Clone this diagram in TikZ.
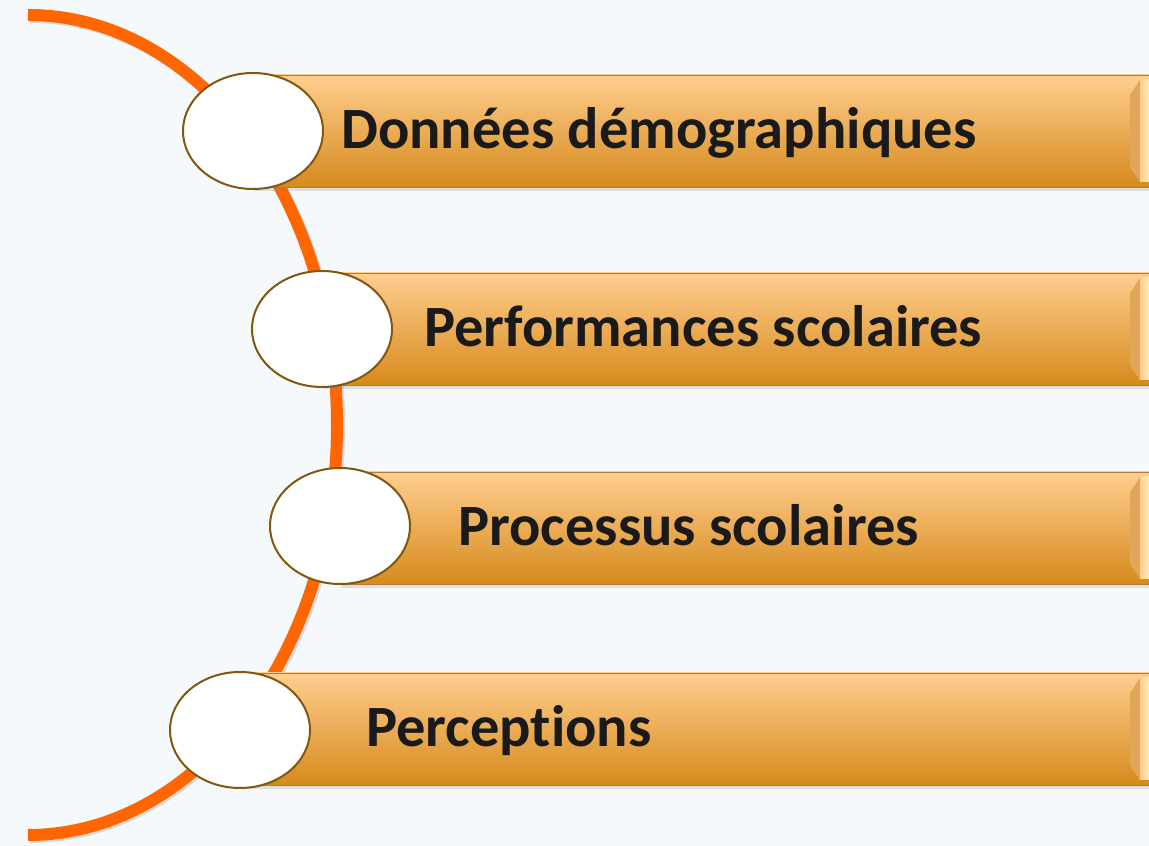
\documentclass[tikz,border=0pt]{standalone}
\usepackage{fontspec}
\setmainfont{Carlito}[Ligatures=NoCommon]
\usetikzlibrary{shapes.geometric,shadows}

\definecolor{pageBg}{RGB}{246,249,252}
\definecolor{arcOrange}{RGB}{255,102,0}
\definecolor{barTop}{RGB}{255,206,143}
\definecolor{barMid}{RGB}{240,178,100}
\definecolor{barBot}{RGB}{214,138,28}
\definecolor{barLine}{RGB}{178,124,56}
\definecolor{ringGold}{RGB}{128,88,16}
\definecolor{ringGrey}{RGB}{218,226,232}
\definecolor{capYellow}{RGB}{255,247,192}
\definecolor{capShade}{RGB}{226,166,88}
\definecolor{labelInk}{RGB}{26,26,26}

\pgfdeclareradialshading{discglow}{\pgfpoint{0bp}{0bp}}{%
  color(0bp)=(white); color(34bp)=(white); color(41bp)=(ringGrey);
  color(46bp)=(white); color(50bp)=(white)}

% right hand bevel of a bar: bottom y, top y
\def\barend(#1,#2){%
  \fill[capShade] (1140,#2-5) -- (1130,#2-20) -- (1130,#1+20) -- (1140,#1+5) -- cycle;
  \shade[left color=barTop, right color=capYellow] (1140,#1+5) rectangle (1152,#2-5);}

\tikzset{
  itembar/.style={top color=barTop, middle color=barMid, bottom color=barBot,
    draw=barLine, line width=0.8pt,
    drop shadow={shadow xshift=1pt, shadow yshift=-4pt, opacity=0.22}},
  disc/.style={ellipse, minimum width=140pt, minimum height=116pt, inner sep=0pt,
    shading=discglow, draw=ringGold, line width=2pt},
  itemlabel/.style={anchor=base west, inner sep=0pt, text=labelInk,
    font=\bfseries\fontsize{58.5}{62}\selectfont},
}

\begin{document}
\begin{tikzpicture}[x=1pt, y=1pt]
	%%%%% START %%%%%
	\useasboundingbox (0,0) rectangle (1149,846);
	\fill[pageBg] (0,0) rectangle (1149,846);
	
	% orange half ring
	\draw[black, opacity=0.12, line width=12pt] (30,829) arc (90:-90:309 and 410);
	\draw[arcOrange, line width=12pt] (28,831) arc (90:-90:309 and 410);
	
	% bars
	\path[itembar] (253,659) rectangle (1152,771);
	\barend(659,771)
	\path[itembar] (322,461) rectangle (1152,573);
	\barend(461,573)
	\path[itembar] (340,262) rectangle (1152,374);
	\barend(262,374)
	\path[itembar] (240,61) rectangle (1152,173);
	\barend(61,173)
	
	% discs
	\node[disc] (disc1) at (253,715) {};
	\node[disc] (disc2) at (322,517) {};
	\node[disc] (disc3) at (340,320) {};
	\node[disc] (disc4) at (240,116) {};
	
	% labels
	\node[itemlabel] (lblDemo) at (341,697.5) {Données démographiques};
	\node[itemlabel] (lblPerf) at (424,499.5) {Performances scolaires};
	\node[itemlabel] (lblProc) at (458,300.5) {Processus scolaires};
	\node[itemlabel] (lblPerc) at (366,99.5) {Perceptions};
	%%%%% END %%%%%
\end{tikzpicture}
\end{document}
